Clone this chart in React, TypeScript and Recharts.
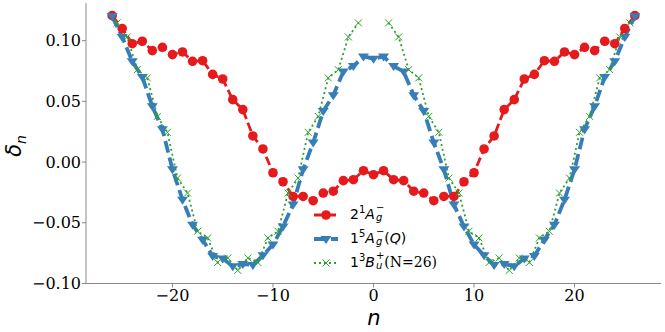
import React from "react";
import { LineChart, Line, XAxis, YAxis } from "recharts";

// site index n (integers) for the 2^1A_g^- and 1^5A_g^-(Q) curves
const nSites = [
  -26, -25, -24, -23, -22, -21, -20, -19, -18, -17, -16, -15, -14, -13, -12, -11, -10, -9, -8, -7, -6, -5, -4, -3, -2, -1,
  0, 1, 2, 3, 4, 5, 6, 7, 8, 9, 10, 11, 12, 13, 14, 15, 16, 17, 18, 19, 20, 21, 22, 23, 24, 25, 26,
];

const red2Ag = [
  0.1206, 0.110, 0.0975, 0.0995, 0.0918, 0.0945, 0.0885, 0.0907, 0.083, 0.0835, 0.0722, 0.0684, 0.0514, 0.0432, 0.0215,
  0.0108, -0.0088, -0.0162, -0.0283, -0.0283, -0.0318, -0.0255, -0.024, -0.0153, -0.0145, -0.0071,
  -0.0104,
  -0.0071, -0.0145, -0.0153, -0.024, -0.0255, -0.0318, -0.0283, -0.0283, -0.0162, -0.0088, 0.0108, 0.0215, 0.0432,
  0.0514, 0.0684, 0.0722, 0.0835, 0.083, 0.0907, 0.0885, 0.0945, 0.0918, 0.0995, 0.0975, 0.110, 0.1206,
];

const blue5AgQ = [
  0.120, 0.103, 0.083, 0.070, 0.046, 0.027, -0.006, -0.031, -0.0516, -0.064, -0.0773, -0.0795, -0.0858, -0.084, -0.0848,
  -0.0768, -0.068, -0.053, -0.035, -0.006, 0.016, 0.042, 0.055, 0.0745, 0.079, 0.087,
  0.085,
  0.087, 0.079, 0.0745, 0.055, 0.042, 0.016, -0.006, -0.035, -0.053, -0.068, -0.0768, -0.0848, -0.084, -0.0858, -0.0795,
  -0.0773, -0.064, -0.0516, -0.031, -0.006, 0.027, 0.046, 0.070, 0.083, 0.103, 0.120,
];

// 1^3B_u^+ (N=26) sits on half-integer positions, gap at the centre
const greenN = [
  -25.5, -24.5, -23.5, -22.5, -21.5, -20.5, -19.5, -18.5, -17.5, -16.5, -15.5, -14.5, -13.5, -12.5, -11.5, -10.5, -9.5,
  -8.5, -7.5, -6.5, -5.5, -4.5, -3.5, -2.5, -1.5,
  0,
  1.5, 2.5, 3.5, 4.5, 5.5, 6.5, 7.5, 8.5, 9.5, 10.5, 11.5, 12.5, 13.5, 14.5, 15.5, 16.5, 17.5, 18.5, 19.5, 20.5, 21.5,
  22.5, 23.5, 24.5, 25.5,
];

const green3Bu: (number | null)[] = [
  0.1146, 0.103, 0.0761, 0.0693, 0.0376, 0.0245, -0.0132, -0.0255, -0.057, -0.0625, -0.0827, -0.079, -0.0892, -0.079,
  -0.0827, -0.0625, -0.057, -0.0255, -0.0132, 0.0245, 0.0376, 0.0693, 0.0761, 0.103, 0.1146,
  null,
  0.1146, 0.103, 0.0761, 0.0693, 0.0376, 0.0245, -0.0132, -0.0255, -0.057, -0.0625, -0.0827, -0.079, -0.0892, -0.079,
  -0.0827, -0.0625, -0.057, -0.0255, -0.0132, 0.0245, 0.0376, 0.0693, 0.0761, 0.103, 0.1146,
];

const xTicks = [-20, -10, 0, 10, 20];
const yTicks = [-0.1, -0.05, 0, 0.05, 0.1];

const RED = "#e41a1c";
const BLUE = "#377eb8";
const GREEN = "#2ca02c";
const SPINE = "#8a8a8a";

const redData = nSites.map((n, i) => ({ n, v: red2Ag[i] }));
const blueData = nSites.map((n, i) => ({ n, v: blue5AgQ[i] }));
const greenData = greenN.map((n, i) => ({ n, v: green3Bu[i] }));

const fmtY = (v: number) => (v < 0 ? "\u2212" : "") + Math.abs(v).toFixed(2);
const fmtX = (v: number) => (v < 0 ? "\u2212" + Math.abs(v) : String(v));

const tickStyle = { fontFamily: "DejaVu Serif", fontSize: 16, fill: "#000" };

function RedDot(p: any) {
  if (p.cx == null || p.cy == null) return <g key={p.index} />;
  return <circle key={p.index} cx={p.cx} cy={p.cy} r={4.8} fill={RED} />;
}

function BlueDot(p: any) {
  if (p.cx == null || p.cy == null) return <g key={p.index} />;
  const { cx, cy } = p;
  const s = 5.5;
  return (
    <path
      key={p.index}
      d={`M${cx - s},${cy - s * 0.55} L${cx + s},${cy - s * 0.55} L${cx},${cy + s * 0.9} Z`}
      fill={BLUE}
    />
  );
}

function GreenDot(p: any) {
  if (p.cx == null || p.cy == null || p.value == null) return <g key={p.index} />;
  const { cx, cy } = p;
  const s = 3.5;
  return (
    <path
      key={p.index}
      d={`M${cx - s},${cy - s} L${cx + s},${cy + s} M${cx - s},${cy + s} L${cx + s},${cy - s}`}
      stroke={GREEN}
      strokeWidth={1}
    />
  );
}

// term symbol like 2^1 A_g^-  (leading number, spin superscript, letter, stacked sub/sup)
function Term({ lead, spin, letter, sub, sup }: { lead: string; spin: string; letter: string; sub: string; sup: string }) {
  return (
    <span>
      {lead}
      <span style={{ fontSize: 10, position: "relative", top: -6 }}>{spin}</span>
      <i>{letter}</i>
      <span
        style={{
          display: "inline-flex",
          flexDirection: "column",
          verticalAlign: "middle",
          fontSize: 10,
          lineHeight: "10px",
          marginLeft: 1,
          position: "relative",
          top: -2,
        }}
      >
        <span>{sup}</span>
        <i>{sub}</i>
      </span>
    </span>
  );
}

const legendRows = [
  { kind: "red", color: RED, dash: "9 4", width: 2.8 },
  { kind: "blue", color: BLUE, dash: "12 5", width: 3.8 },
  { kind: "green", color: GREEN, dash: "2 3", width: 1.8 },
];

function LegendMarker({ kind }: { kind: string }) {
  if (kind === "red") return <circle cx={12} cy={8} r={4.8} fill={RED} />;
  if (kind === "blue") return <path d="M6.5,5 L17.5,5 L12,13 Z" fill={BLUE} />;
  return <path d="M8.5,4.5 L15.5,11.5 M8.5,11.5 L15.5,4.5" stroke={GREEN} strokeWidth={1} />;
}

function legendLabel(kind: string) {
  if (kind === "red") return <Term lead="2" spin="1" letter="A" sub="g" sup={"\u2212"} />;
  if (kind === "blue")
    return (
      <>
        <Term lead="1" spin="5" letter="A" sub="g" sup={"\u2212"} />
        (<i>Q</i>)
      </>
    );
  return (
    <>
      <Term lead="1" spin="3" letter="B" sub="u" sup="+" />
      <span style={{ fontFamily: "DejaVu Serif" }}>(N=26)</span>
    </>
  );
}

export default function App() {
  return (
    <div style={{ position: "absolute", left: 0, top: 0, width: 665, height: 332, background: "#fff" }}>
      <LineChart width={665} height={332} data={redData} margin={{ top: 3, right: 4, left: 0, bottom: 0 }}>
        <XAxis
          dataKey="n"
          type="number"
          domain={[-28.6, 28.6]}
          allowDataOverflow
          ticks={xTicks}
          tickFormatter={fmtX}
          tick={tickStyle}
          height={48.5}
          stroke={SPINE}
          tickSize={4}
          tickMargin={2}
        />
        <XAxis
          xAxisId="top"
          orientation="top"
          type="number"
          domain={[-28.6, 28.6]}
          allowDataOverflow
          tick={false}
          tickLine={false}
          height={0}
          stroke={SPINE}
        />
        <YAxis
          type="number"
          domain={[-0.1, 0.131]}
          allowDataOverflow
          ticks={yTicks}
          tickFormatter={fmtY}
          tick={tickStyle}
          width={86}
          stroke={SPINE}
          tickSize={4}
          tickMargin={1}
        />
        <YAxis
          yAxisId="right"
          orientation="right"
          type="number"
          domain={[-0.1, 0.131]}
          allowDataOverflow
          tick={false}
          tickLine={false}
          width={0}
          stroke={SPINE}
        />
        <Line
          data={redData}
          dataKey="v"
          stroke={RED}
          strokeWidth={2.8}
          strokeDasharray="9 4"
          dot={RedDot}
          activeDot={false}
          isAnimationActive={false}
        />
        <Line
          data={blueData}
          dataKey="v"
          stroke={BLUE}
          strokeWidth={3.8}
          strokeDasharray="12 5"
          dot={BlueDot}
          activeDot={false}
          isAnimationActive={false}
        />
        <Line
          data={greenData}
          dataKey="v"
          stroke={GREEN}
          strokeWidth={1.8}
          strokeDasharray="2 3"
          dot={GreenDot}
          activeDot={false}
          connectNulls={false}
          isAnimationActive={false}
        />
      </LineChart>

      {/* axis labels */}
      <div
        style={{
          position: "absolute",
          left: 15,
          top: 146,
          transform: "translate(-50%, -50%) rotate(-90deg)",
          fontFamily: "DejaVu Sans",
          fontStyle: "italic",
          fontSize: 21,
          whiteSpace: "nowrap",
          lineHeight: "24px",
        }}
      >
        δ<span style={{ fontSize: 14, position: "relative", top: 5 }}>n</span>
      </div>
      <div
        style={{
          position: "absolute",
          left: 374,
          top: 318,
          transform: "translate(-50%, -50%)",
          fontFamily: "DejaVu Sans",
          fontStyle: "italic",
          fontSize: 21,
          lineHeight: "22px",
        }}
      >
        n
      </div>

      {/* legend */}
      <div style={{ position: "absolute", left: 314, top: 203 }}>
        {legendRows.map((r) => (
          <div key={r.kind} style={{ display: "flex", alignItems: "center", height: 24 }}>
            <svg width={26} height={16} style={{ marginRight: 10 }}>
              <line x1={0} y1={8} x2={24} y2={8} stroke={r.color} strokeWidth={r.width} strokeDasharray={r.dash} />
              <LegendMarker kind={r.kind} />
            </svg>
            <span style={{ fontFamily: "DejaVu Sans", fontSize: 14, whiteSpace: "nowrap", lineHeight: "16px" }}>
              {legendLabel(r.kind)}
            </span>
          </div>
        ))}
      </div>
    </div>
  );
}
